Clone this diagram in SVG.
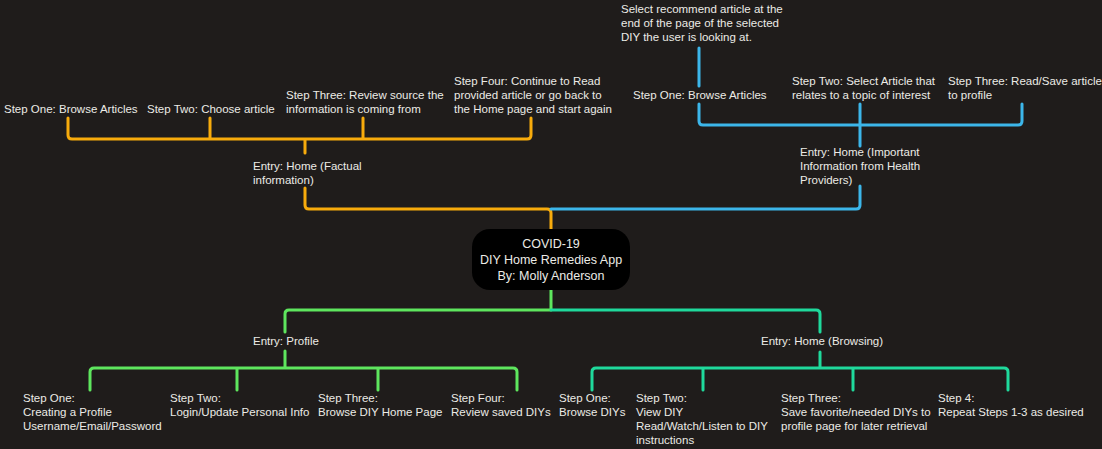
<svg xmlns="http://www.w3.org/2000/svg" width="1102" height="449" viewBox="0 0 1102 449">
<style>
text{font-family:"Liberation Sans",Arial,sans-serif;font-size:11.5px;fill:#ecebe6}
.c{fill:none;stroke-width:3;stroke-linejoin:round;stroke-linecap:round}
.o{stroke:#f7ab0c}.b{stroke:#3cb6ea}.g{stroke:#5ee65e}.t{stroke:#1fd99c}
</style>
<rect width="1102" height="449" fill="#1f1c1b"/>
<g id="connectors">
<path class="c o" d="M551 229V213Q551 209 547 209H309Q305 209 305 205V188M305 153V139M68 118V135Q68 139 72 139H527Q531 139 531 135V118M210 118V139M363 118V139"/>
<path class="c b" d="M551 209H856Q860 209 860 205V186M860 146V125M699 104V121Q699 125 703 125H1018Q1022 125 1022 121V104M860 104V125M699 86V48"/>
<path class="c g" d="M551 290V310H289Q285 310 285 314V332M285 351V368M90 390V372Q90 368 94 368H513Q517 368 517 372V390M237 368V390M378 368V390"/>
<path class="c t" d="M551 310H816Q820 310 820 314V332M820 352V368M592 390V372Q592 368 596 368H1004Q1008 368 1008 372V390M703 368V390M853 368V390"/>
</g>
<g id="center"><rect x="472" y="229" width="158" height="61" rx="18" fill="#000"/>
<text x="551" y="248" text-anchor="middle" style="font-size:12.5px">COVID-19</text>
<text x="551" y="264" text-anchor="middle" style="font-size:12.5px">DIY Home Remedies App</text>
<text x="551" y="280" text-anchor="middle" style="font-size:12.5px">By: Molly Anderson</text></g>
<g id="o-entry"><text x="253" y="170">Entry: Home (Factual</text><text x="253" y="184">information)</text></g>
<g id="o1"><text x="4" y="113">Step One: Browse Articles</text></g>
<g id="o2"><text x="147" y="113">Step Two: Choose article</text></g>
<g id="o3"><text x="286" y="99">Step Three: Review source the</text><text x="286" y="113">information is coming from</text></g>
<g id="o4"><text x="454" y="85">Step Four: Continue to Read</text><text x="454" y="99">provided article or go back to</text><text x="454" y="113">the Home page and start again</text></g>
<g id="b-entry"><text x="800" y="156">Entry: Home (Important</text><text x="800" y="170">Information from Health</text><text x="800" y="184">Providers)</text></g>
<g id="b0"><text x="621" y="13">Select recommend article at the</text><text x="621" y="27">end of the page of the selected</text><text x="621" y="41">DIY the user is looking at.</text></g>
<g id="b1"><text x="633" y="99">Step One: Browse Articles</text></g>
<g id="b2"><text x="792" y="85">Step Two: Select Article that</text><text x="792" y="99">relates to a topic of interest</text></g>
<g id="b3"><text x="948" y="85">Step Three: Read/Save article</text><text x="948" y="99">to profile</text></g>
<g id="g-entry"><text x="253" y="345">Entry: Profile</text></g>
<g id="g1"><text x="23" y="402">Step One:</text><text x="23" y="416">Creating a Profile</text><text x="23" y="430">Username/Email/Password</text></g>
<g id="g2"><text x="170" y="402">Step Two:</text><text x="170" y="416">Login/Update Personal Info</text></g>
<g id="g3"><text x="318" y="402">Step Three:</text><text x="318" y="416">Browse DIY Home Page</text></g>
<g id="g4"><text x="451" y="402">Step Four:</text><text x="451" y="416">Review saved DIYs</text></g>
<g id="t-entry"><text x="761" y="345">Entry: Home (Browsing)</text></g>
<g id="t1"><text x="559" y="402">Step One:</text><text x="559" y="416">Browse DIYs</text></g>
<g id="t2"><text x="636" y="402">Step Two:</text><text x="636" y="416">View DIY</text><text x="636" y="430">Read/Watch/Listen to DIY</text><text x="636" y="444">instructions</text></g>
<g id="t3"><text x="781" y="402">Step Three:</text><text x="781" y="416">Save favorite/needed DIYs to</text><text x="781" y="430">profile page for later retrieval</text></g>
<g id="t4"><text x="938" y="402">Step 4:</text><text x="938" y="416">Repeat Steps 1-3 as desired</text></g>
</svg>
